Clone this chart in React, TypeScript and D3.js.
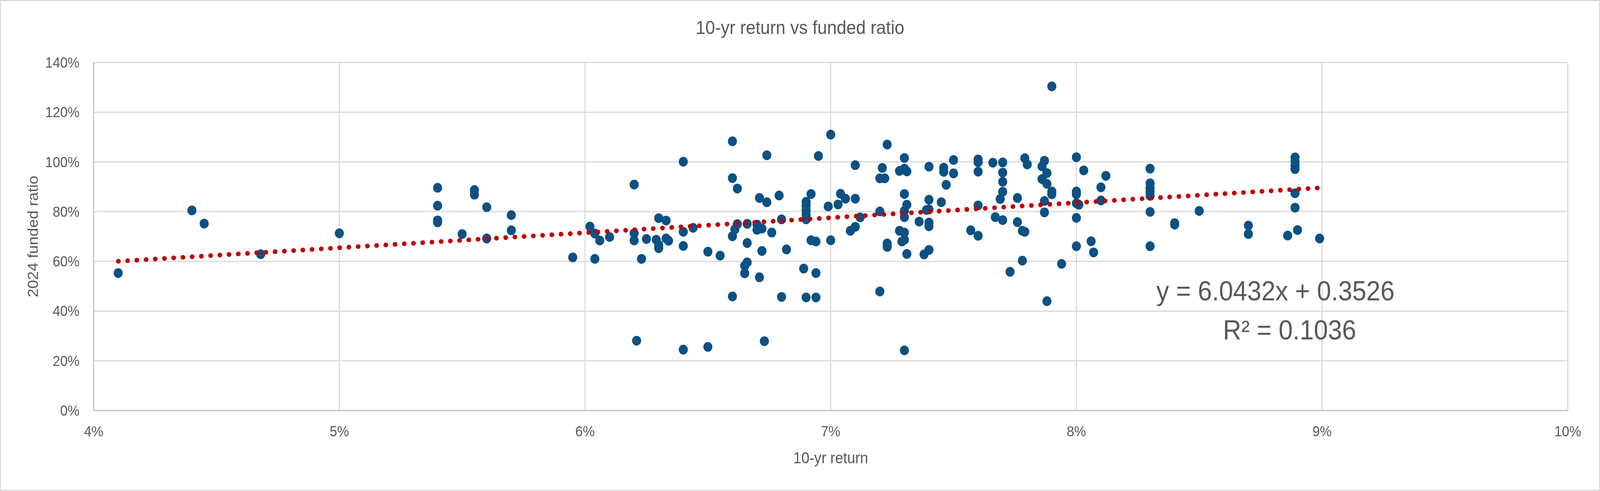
import { useEffect, useRef } from "react";
import * as d3 from "d3";

// 10-yr return (%) for each plan
const returns: number[] = [
  4.1, 4.4, 4.45, 4.68, 5.0, 5.4, 5.4, 5.4, 5.4, 5.5, 5.55, 5.55, 5.6, 5.6, 5.7, 5.7, 5.95,
  6.02, 6.04, 6.06, 6.04, 6.1, 6.2, 6.2, 6.2, 6.23, 6.21, 6.25, 6.3, 6.33, 6.29, 6.3, 6.3,
  6.33, 6.34, 6.4, 6.4, 6.4, 6.4, 6.44, 6.5, 6.5, 6.55, 6.6, 6.6, 6.62, 6.6, 6.6, 6.62, 6.61,
  6.66, 6.66, 6.66, 6.65, 6.65, 6.74, 6.71, 6.74, 6.7, 6.7, 6.72, 6.76, 6.72, 6.71, 6.73,
  6.79, 6.8, 6.82, 6.8, 6.9, 6.9, 6.9, 6.9, 6.9, 6.92, 6.92, 6.94, 6.89, 6.94, 6.9, 6.94,
  6.95, 7.0, 6.99, 7.0, 7.03, 7.04, 7.06, 7.1, 7.1, 7.12, 7.1, 7.08, 7.2, 7.23, 7.21, 7.2,
  7.22, 7.2, 7.23, 7.23, 7.3, 7.28, 7.3, 7.31, 7.3, 7.31, 7.3, 7.3, 7.28, 7.3, 7.3, 7.29,
  7.31, 7.3, 7.36, 7.4, 7.4, 7.39, 7.4, 7.4, 7.4, 7.4, 7.38, 7.46, 7.46, 7.47, 7.45, 7.5,
  7.5, 7.57, 7.6, 7.6, 7.6, 7.6, 7.6, 7.66, 7.7, 7.7, 7.7, 7.7, 7.69, 7.67, 7.7, 7.73, 7.76,
  7.76, 7.78, 7.78, 7.79, 7.79, 7.8, 7.87, 7.86, 7.88, 7.86, 7.88, 7.9, 7.9, 7.87, 7.87,
  7.88, 7.9, 7.94, 8.0, 8.0, 8.0, 8.0, 8.01, 8.0, 8.0, 8.03, 8.06, 8.07, 8.1, 8.1, 8.12,
  8.3, 8.3, 8.3, 8.3, 8.3, 8.3, 8.3, 8.4, 8.4, 8.5, 8.7, 8.7, 8.89, 8.89, 8.89, 8.89, 8.89,
  8.89, 8.9, 8.86, 8.99,
];

// 2024 funded ratio (%) for the same plans
const funded: number[] = [
  55.3, 80.5, 75.2, 62.9, 71.3, 89.6, 82.4, 76.5, 75.7, 71.0, 88.7, 86.8, 81.8, 69.2, 78.6, 72.5, 61.6,
  74.0, 71.2, 68.4, 61.0, 69.8, 90.9, 71.3, 68.4, 61.0, 28.1, 69.0, 77.4, 76.4, 68.7, 66.6, 65.3,
  69.2, 68.3, 71.9, 66.2, 100.1, 24.5, 73.5, 63.9, 25.6, 62.3, 108.3, 93.5, 89.3, 70.1, 45.9, 75.0, 72.9,
  75.1, 67.4, 59.6, 58.2, 55.2, 102.7, 85.5, 83.8, 74.8, 72.7, 73.2, 71.6, 64.2, 53.6, 27.9,
  86.5, 76.9, 64.8, 45.7, 84.0, 82.5, 80.5, 78.8, 76.9, 87.1, 68.5, 68.0, 57.1, 55.3, 45.5, 45.5,
  102.4, 111.0, 82.1, 68.5, 82.9, 87.2, 85.2, 98.7, 85.2, 77.7, 73.9, 72.3, 47.9, 107.0, 97.6, 93.4,
  93.4, 80.1, 67.2, 65.8, 101.6, 96.4, 97.3, 96.2, 87.1, 82.8, 80.3, 77.8, 72.3, 71.6, 68.7, 68.0,
  63.0, 24.2, 76.0, 98.1, 84.8, 80.7, 80.9, 75.6, 74.1, 64.6, 62.8, 97.7, 96.0, 90.8, 83.8, 100.8,
  95.4, 72.5, 101.0, 99.9, 96.1, 82.5, 70.3, 99.7, 99.8, 95.7, 92.0, 88.0, 85.1, 77.8, 76.6, 55.8, 85.5,
  75.8, 60.3, 72.3, 71.9, 101.5, 99.0, 100.5, 98.2, 95.5, 93.1, 91.2, 88.1, 87.0, 84.3, 79.7,
  44.0, 130.4, 59.0, 101.9, 88.1, 87.0, 83.4, 82.8, 77.5, 66.1, 96.6, 68.1, 63.6, 89.8, 84.5, 94.4,
  97.3, 91.4, 89.5, 88.0, 86.4, 79.9, 66.1, 75.4, 74.8, 80.3, 74.4, 71.0, 101.8, 100.2, 98.5, 97.1, 87.4,
  81.6, 72.6, 70.4, 69.2,
];

const xTicks = [4, 5, 6, 7, 8, 9, 10];
const yTicks = [0, 20, 40, 60, 80, 100, 120, 140];

// linear trendline as reported by the chart (fractions)
const slope = 6.0432;
const intercept = 0.3526;
const rSquared = 0.1036;

const FONT = "'Liberation Sans', Arial, sans-serif";
const TEXT = "#595959";

export default function App() {
  const svgRef = useRef<SVGSVGElement>(null);

  useEffect(() => {
    if (!svgRef.current) return;
    // drawing is laid out in a 4417x1257 box and stretched to the window
    const W = 4417;
    const H = 1257;
    const margin = { top: 160, right: 89, bottom: 206, left: 258.5 };
    const width = W - margin.left - margin.right;
    const height = H - margin.top - margin.bottom;

    const root = d3.select(svgRef.current);
    root.selectAll("*").remove();
    root.attr("viewBox", `0 0 ${W} ${H}`).attr("preserveAspectRatio", "none");

    root
      .append("rect")
      .attr("x", 1.5)
      .attr("y", 1.5)
      .attr("width", W - 3)
      .attr("height", H - 3)
      .attr("fill", "#fff")
      .attr("stroke", "#d9d9d9")
      .attr("stroke-width", 3);

    const svg = root.append("g").attr("transform", `translate(${margin.left},${margin.top})`);

    const x = d3.scaleLinear().domain([4, 10]).range([0, width]);
    const y = d3.scaleLinear().domain([0, 140]).range([height, 0]);

    // gridlines
    svg
      .append("g")
      .selectAll("line")
      .data(yTicks.filter((t) => t > 0))
      .enter()
      .append("line")
      .attr("x1", 0)
      .attr("x2", width)
      .attr("y1", (d) => y(d))
      .attr("y2", (d) => y(d))
      .attr("stroke", "#d9d9d9")
      .attr("stroke-width", 3);

    svg
      .append("g")
      .selectAll("line")
      .data(xTicks.filter((t) => t > 4))
      .enter()
      .append("line")
      .attr("x1", (d) => x(d))
      .attr("x2", (d) => x(d))
      .attr("y1", 0)
      .attr("y2", height)
      .attr("stroke", "#d9d9d9")
      .attr("stroke-width", 3);

    // axis lines
    svg
      .append("line")
      .attr("x1", 0)
      .attr("x2", width)
      .attr("y1", height)
      .attr("y2", height)
      .attr("stroke", "#bfbfbf")
      .attr("stroke-width", 3);
    svg
      .append("line")
      .attr("x1", 0)
      .attr("x2", 0)
      .attr("y1", 0)
      .attr("y2", height)
      .attr("stroke", "#bfbfbf")
      .attr("stroke-width", 3);

    // tick labels
    svg
      .append("g")
      .selectAll("text")
      .data(yTicks)
      .enter()
      .append("text")
      .attr("x", -39)
      .attr("y", (d) => y(d) + 13)
      .attr("text-anchor", "end")
      .attr("fill", TEXT)
      .style("font-family", FONT)
      .style("font-size", "37px")
      .text((d) => `${d}%`);

    svg
      .append("g")
      .selectAll("text")
      .data(xTicks)
      .enter()
      .append("text")
      .attr("x", (d) => x(d))
      .attr("y", height + 66)
      .attr("text-anchor", "middle")
      .attr("fill", TEXT)
      .style("font-family", FONT)
      .style("font-size", "37px")
      .text((d) => `${d}%`);

    // points
    const pts = returns.map((r, i) => [r, funded[i]]);
    svg
      .append("g")
      .selectAll("circle")
      .data(pts)
      .enter()
      .append("circle")
      .attr("cx", (d) => x(d[0]))
      .attr("cy", (d) => y(d[1]))
      .attr("r", 12.5)
      .attr("fill", "#0b5184");

    // trendline over the data range
    const [x0, x1] = d3.extent(returns) as [number, number];
    const trend = (v: number) => (slope * (v / 100) + intercept) * 100;
    svg
      .append("path")
      .datum([x0, x1])
      .attr(
        "d",
        d3
          .line<number>()
          .x((d) => x(d))
          .y((d) => y(trend(d)))
      )
      .attr("fill", "none")
      .attr("stroke", "#c00000")
      .attr("stroke-width", 12)
      .attr("stroke-linecap", "round")
      .attr("stroke-dasharray", "1 24.5");

    // trendline label
    svg
      .append("text")
      .attr("x", 3521 - margin.left)
      .attr("y", 769 - margin.top)
      .attr("text-anchor", "middle")
      .attr("fill", TEXT)
      .style("font-family", FONT)
      .style("font-size", "70px")
      .text(`y = ${slope}x + ${intercept}`);
    svg
      .append("text")
      .attr("x", 3560 - margin.left)
      .attr("y", 869 - margin.top)
      .attr("text-anchor", "middle")
      .attr("fill", TEXT)
      .style("font-family", FONT)
      .style("font-size", "70px")
      .text(`R² = ${rSquared}`);

    // titles
    root
      .append("text")
      .attr("x", W / 2)
      .attr("y", 87)
      .attr("text-anchor", "middle")
      .attr("fill", TEXT)
      .style("font-family", FONT)
      .style("font-size", "48px")
      .text("10-yr return vs funded ratio");

    root
      .append("text")
      .attr("x", margin.left + width / 2)
      .attr("y", 1186)
      .attr("text-anchor", "middle")
      .attr("fill", TEXT)
      .style("font-family", FONT)
      .style("font-size", "40px")
      .text("10-yr return");

    root
      .append("text")
      .attr("transform", `translate(105,${margin.top + height / 2}) rotate(-90)`)
      .attr("text-anchor", "middle")
      .attr("fill", TEXT)
      .style("font-family", FONT)
      .style("font-size", "40px")
      .text("2024 funded ratio");
  }, []);

  return (
    <div style={{ position: "fixed", left: 0, top: 0, width: "100vw", height: "100vh" }}>
      <svg ref={svgRef} width="100%" height="100%" style={{ display: "block" }}></svg>
    </div>
  );
}
